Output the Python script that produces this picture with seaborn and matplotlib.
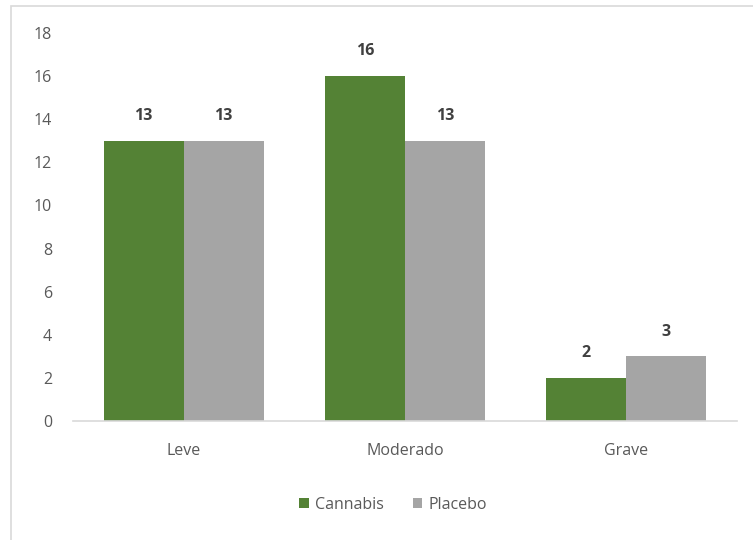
import matplotlib
matplotlib.use("Agg")
import matplotlib.pyplot as plt
import seaborn as sns
import pandas as pd
from matplotlib.patches import Rectangle

categories = ["Leve", "Moderado", "Grave"]
cannabis = [13, 16, 2]
placebo = [13, 13, 3]
series_names = ["Cannabis", "Placebo"]
y_ticks = [0, 2, 4, 6, 8, 10, 12, 14, 16, 18]

df = pd.DataFrame({
    "Gravidade": categories * 2,
    "Valor": cannabis + placebo,
    "Grupo": [series_names[0]] * 3 + [series_names[1]] * 3,
})

sns.set_theme(style="white")
plt.rcParams["font.family"] = ["Open Sans", "DejaVu Sans"]

fig = plt.figure(figsize=(7.53, 5.40), dpi=100)
ax = fig.add_axes([73 / 753, 1 - 421 / 540, (737 - 73) / 753, (421 - 33) / 540])

palette = {"Cannabis": "#548235", "Placebo": "#A5A5A5"}
sns.barplot(data=df, x="Gravidade", y="Valor", hue="Grupo", palette=palette,
            width=0.723, gap=0, saturation=1, ax=ax, legend=True,
            edgecolor="none", linewidth=0)

ax.set_xlim(-0.5, 2.5)
ax.set_ylim(0, 18)
ax.set_yticks(y_ticks)
ax.set_xlabel("")
ax.set_ylabel("")
for side in ["top", "right", "left"]:
    ax.spines[side].set_visible(False)
ax.spines["bottom"].set_color("#D9D9D9")
ax.spines["bottom"].set_linewidth(1.2)
ax.tick_params(axis="both", length=0, labelsize=11.5, colors="#595959")
ax.tick_params(axis="y", pad=15)
ax.tick_params(axis="x", pad=16)

for cont in ax.containers:
    ax.bar_label(cont, fmt="%d", padding=12, fontsize=11.5, fontweight="bold",
                 color="#404040")

handles, labels = ax.get_legend_handles_labels()
ax.legend(handles, labels, loc="center", bbox_to_anchor=(393 / 753, 1 - 505 / 540),
          bbox_transform=fig.transFigure, ncol=2, frameon=False, fontsize=11.5,
          handlelength=0.6, handleheight=0.6, handletextpad=0.4, columnspacing=1.8,
          labelcolor="#595959")

# chart area border
fig.patches.append(Rectangle((11 / 753, -0.1), 1.2, 1 - 6 / 540 + 0.1,
                             transform=fig.transFigure, fill=False,
                             edgecolor="#D9D9D9", linewidth=1.2))

fig.savefig("out.png", dpi=100)
